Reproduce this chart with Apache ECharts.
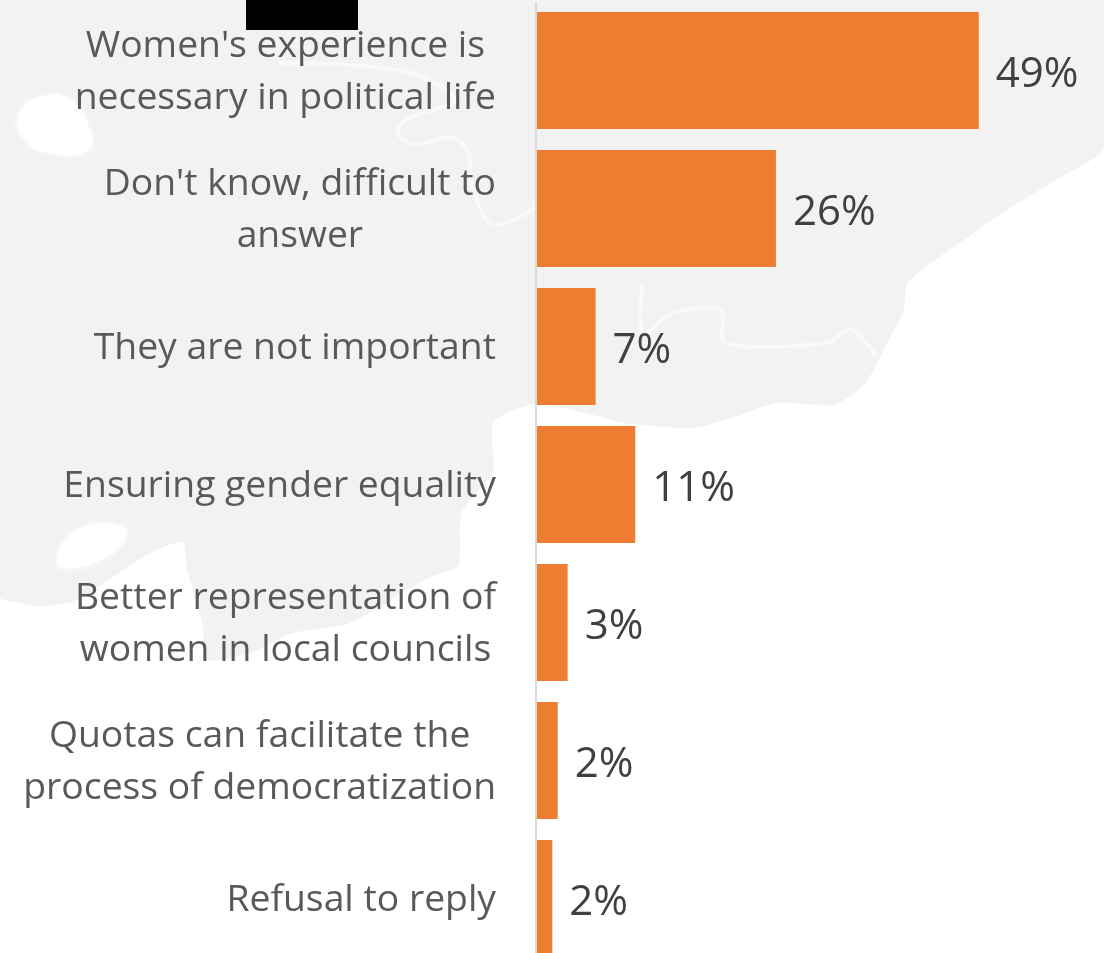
<!DOCTYPE html>
<html><head><meta charset="utf-8">
<style>html,body{margin:0;padding:0;background:#fff}#c{width:1104px;height:953px}</style>
<script src="https://cdn.jsdelivr.net/npm/echarts@6/dist/echarts.min.js"></script>
</head><body><div id="c"></div>
<script>
const categories = ["Women's experience is\nnecessary in political life","Don't know, difficult to\nanswer","They are not important","Ensuring gender equality","Better representation of\nwomen in local councils","Quotas can facilitate the\nprocess of democratization","Refusal to reply"];
const values = [49, 26.5, 6.5, 10.9, 3.4, 2.3, 1.7];
const valueLabels = ["49%","26%","7%","11%","3%","2%","2%"];
const FONT = '"Open Sans"';
const land = [[0,0],[1104,0],[1104,148],[1063,176],[1010,208],[975,232],[908,282],[904,310],[886,345],[876,366],[862,387],[834,405],[777,403],[728,419],[693,428],[622,423],[594,415],[535,404],[493,422],[493,471],[461,514],[458,566],[430,577],[350,623],[293,633],[250,653],[207,660],[203,627],[197,603],[187,570],[183,542],[150,553],[113,577],[77,600],[40,607],[20,603],[0,597]];
const lake1 = [[19,115],[40,97],[70,100],[90,130],[88,150],[50,153],[25,140]];
const lake2 = [[57,563],[77,530],[123,527],[123,543],[100,560],[75,568]];
const rivers = [[[278,63],[352,65],[415,74],[455,100],[405,120],[398,134],[415,145],[451,137],[468,151],[472,187],[493,225],[535,208]],[[642,285],[643,334],[672,313],[721,310],[725,343],[827,343],[851,329],[876,356]]];
const chart = echarts.init(document.getElementById('c'));
chart.setOption({
  animation:false,
  backgroundColor:'#fff',
  grid:{left:537,top:1.5,width:559,height:966,outerBoundsMode:'none'},
  xAxis:{type:'value',min:0,max:62,show:false},
  yAxis:{type:'category',inverse:true,data:categories,
    axisLine:{show:false},axisTick:{show:false},
    axisLabel:{margin:41,align:'right',color:'#595959',fontFamily:FONT,fontSize:37.3,lineHeight:52,padding:[4,0,0,0],
      formatter:v=>v.split('\n').map(s=>'{c|'+s+'}').join('\n'),
      rich:{c:{align:'center',color:'#595959',fontFamily:FONT,fontSize:37.3,lineHeight:52}}}},
  series:[{type:'bar',data:values,barWidth:117,clip:false,itemStyle:{color:'#ed7d31'},z:3,
    label:{show:true,position:'right',distance:17,offset:[0,5],color:'#404040',fontFamily:FONT,fontSize:42,
      formatter:p=>valueLabels[p.dataIndex]}}],
  graphic:[
    {type:'polygon',z:-10,silent:true,shape:{points:land,smooth:0.2},style:{fill:'#f2f2f2'}},
    {type:'polygon',z:-9,silent:true,shape:{points:lake1,smooth:0.5},style:{fill:'#fff',shadowColor:'#fff',shadowBlur:6}},
    {type:'polygon',z:-9,silent:true,shape:{points:lake2,smooth:0.5},style:{fill:'#fff',shadowColor:'#fff',shadowBlur:6}},
    ...rivers.map(r=>({type:'polyline',z:-9,silent:true,shape:{points:r,smooth:0.3},style:{stroke:'#f9f9f9',lineWidth:4,fill:null}})),
    {type:'rect',z:-5,silent:true,shape:{x:246,y:0,width:112,height:30},style:{fill:'#000'}},
    {type:'rect',z:-5,silent:true,shape:{x:535,y:2,width:2,height:951},style:{fill:'#d9d9d9'}}
  ]
});
</script></body></html>
